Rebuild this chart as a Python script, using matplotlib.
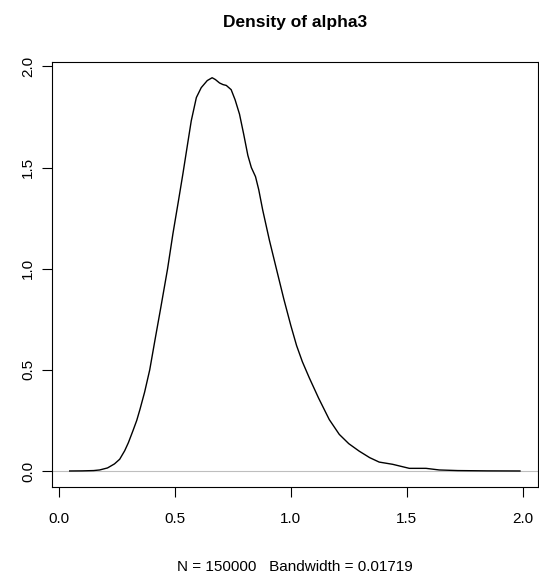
import matplotlib
matplotlib.use("Agg")
import matplotlib.pyplot as plt

plt.rcParams["font.family"] = ["Liberation Sans", "DejaVu Sans"]

# density curve (x, estimated density)
dens_x = [0.047, 0.10, 0.15, 0.176, 0.21, 0.24, 0.2625, 0.284, 0.30, 0.32,
          0.336, 0.35, 0.37, 0.392, 0.415, 0.44, 0.469, 0.492, 0.515, 0.535,
          0.555, 0.571, 0.593, 0.614, 0.64, 0.661, 0.675, 0.693, 0.708, 0.722,
          0.743, 0.76, 0.779, 0.797, 0.815, 0.83, 0.848, 0.862, 0.879, 0.908,
          0.94, 0.97, 1.00, 1.025, 1.05, 1.08, 1.12, 1.166, 1.209, 1.25,
          1.295, 1.34, 1.381, 1.439, 1.511, 1.583, 1.64, 1.72, 1.85, 1.988]
dens_y = [0.0, 0.0005, 0.002, 0.005, 0.015, 0.035, 0.058, 0.1, 0.14, 0.2,
          0.25, 0.305, 0.39, 0.5, 0.65, 0.81, 1.0, 1.173, 1.33, 1.469,
          1.615, 1.731, 1.846, 1.895, 1.93, 1.944, 1.935, 1.918, 1.91, 1.906,
          1.885, 1.835, 1.764, 1.665, 1.56, 1.5, 1.455, 1.39, 1.29, 1.14,
          0.99, 0.85, 0.72, 0.62, 0.54, 0.46, 0.36, 0.254, 0.181, 0.135,
          0.098, 0.066, 0.044, 0.033, 0.013, 0.013, 0.005, 0.002, 0.0005, 0.0]

x_ticks = [0.0, 0.5, 1.0, 1.5, 2.0]
y_ticks = [0.0, 0.5, 1.0, 1.5, 2.0]
title = "Density of alpha3"
xlab = "N = 150000   Bandwidth = 0.01719"

fig = plt.figure(figsize=(5.39, 5.73), dpi=100)
ax = fig.add_axes([0.0959, 0.1506, 0.9022, 0.7412])

# R-style 4% padding on both axes
span = dens_x[-1] - dens_x[0]
ax.set_xlim(dens_x[0] - 0.04 * span, dens_x[-1] + 0.04 * span)
ymax = max(dens_y)
ax.set_ylim(-0.04 * ymax, 1.04 * ymax)

ax.axhline(0, color="#bebebe", lw=0.8, zorder=1)
ax.plot(dens_x, dens_y, color="black", lw=1.0, zorder=2)

ax.set_xticks(x_ticks)
ax.set_yticks(y_ticks)
ax.set_xticklabels([f"{v:.1f}" for v in x_ticks])
ax.set_yticklabels([f"{v:.1f}" for v in y_ticks], rotation=90, va="center")
ax.tick_params(axis="both", direction="out", length=7.5, width=0.8,
               labelsize=11, color="black")
ax.tick_params(axis="x", pad=11)
ax.tick_params(axis="y", pad=4.5)
for sp in ax.spines.values():
    sp.set_linewidth(0.8)
    sp.set_color("black")

ax.set_title(title, fontsize=12.5, fontweight="bold", pad=25)
ax.set_xlabel(xlab, fontsize=11, labelpad=24)

fig.savefig("out.png", dpi=100)
